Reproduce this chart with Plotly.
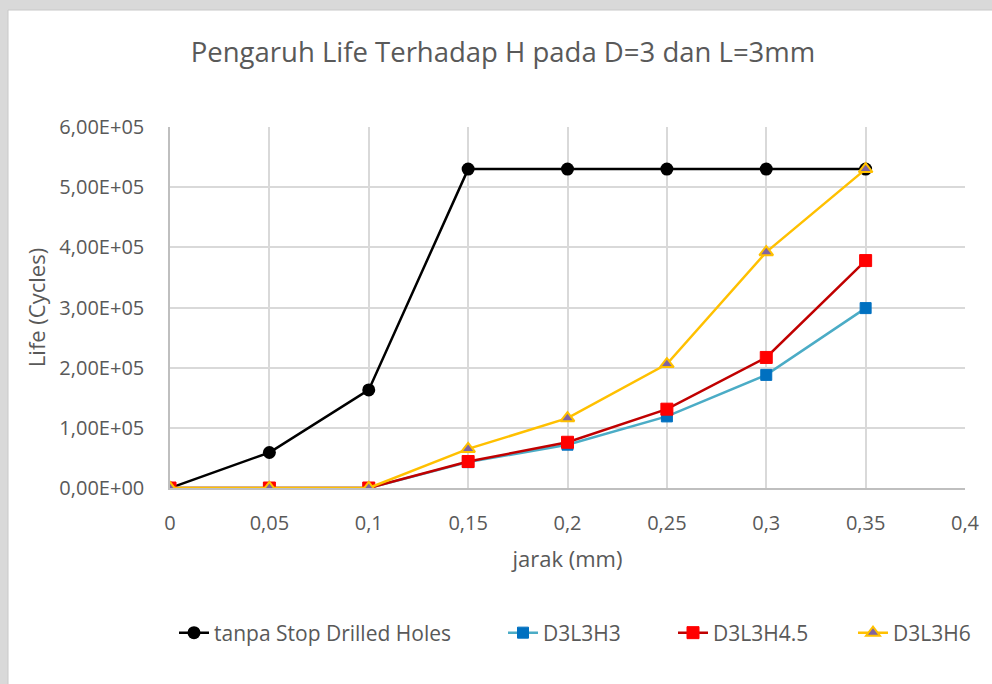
import plotly.graph_objects as go

# Data: fatigue life versus hole distance
jarak = [0, 0.05, 0.1, 0.15, 0.2, 0.25, 0.3, 0.35]
tanpa_stop = [0, 59000, 163000, 530000, 530000, 530000, 530000, 530000]
d3l3h3 = [0, 0, 0, 43000, 72000, 119000, 188000, 299000]
d3l3h45 = [0, 0, 0, 44000, 76000, 131000, 217000, 378000]
d3l3h6 = [0, 0, 0, 65000, 116000, 206000, 392000, 530000]

x_ticks = [0, 0.05, 0.1, 0.15, 0.2, 0.25, 0.3, 0.35, 0.4]
x_labels = ["0", "0,05", "0,1", "0,15", "0,2", "0,25", "0,3", "0,35", "0,4"]
y_ticks = [0, 100000, 200000, 300000, 400000, 500000, 600000]
y_labels = ["0,00E+00", "1,00E+05", "2,00E+05", "3,00E+05", "4,00E+05", "5,00E+05", "6,00E+05"]

FONT = "Open Sans"
TXT = "#595959"
GRID = "#d9d9d9"

W, H = 992, 684
L, R, T, B = 170, 27, 127, 196
pw, ph = W - L - R, H - T - B


def px_x(p):
    return (p - L) / pw


def px_y(p):
    return (H - B - p) / ph


fig = go.Figure()
fig.add_trace(go.Scatter(
    x=jarak, y=tanpa_stop, name="tanpa Stop Drilled Holes", mode="lines+markers",
    line=dict(color="#000000", width=2.5),
    marker=dict(symbol="circle", size=13, color="#000000"),
    legend="legend",
))
fig.add_trace(go.Scatter(
    x=jarak, y=d3l3h3, name="D3L3H3", mode="lines+markers",
    line=dict(color="#4bacc6", width=2.5),
    marker=dict(symbol="square", size=11, color="#0070c0", line=dict(color="#0070c0", width=1)),
    legend="legend2",
))
fig.add_trace(go.Scatter(
    x=jarak, y=d3l3h45, name="D3L3H4.5", mode="lines+markers",
    line=dict(color="#c00000", width=2.5),
    marker=dict(symbol="square", size=12, color="#ff0000", line=dict(color="#ff0000", width=1)),
    legend="legend3",
))
fig.add_trace(go.Scatter(
    x=jarak, y=d3l3h6, name="D3L3H6", mode="lines+markers",
    line=dict(color="#ffc000", width=2.5),
    marker=dict(symbol="triangle-up", size=12, color="#8064a2", line=dict(color="#ffc000", width=2)),
    legend="legend4",
))

# grey frame around the white chart area (top and left strips)
fig.add_shape(type="rect", xref="paper", yref="paper",
              x0=px_x(8), x1=px_x(W + 5), y0=px_y(H + 5), y1=px_y(10),
              fillcolor="white", line=dict(color="#c8c8c8", width=1), layer="below")

legend_font = dict(family=FONT, size=21, color=TXT)


def legend_at(px_left):
    return dict(orientation="h", x=px_x(px_left), xanchor="left",
                y=px_y(633), yanchor="middle", font=legend_font,
                bgcolor="rgba(0,0,0,0)", borderwidth=0)


fig.update_layout(
    width=W, height=H,
    margin=dict(l=L, r=R, t=T, b=B, pad=0),
    paper_bgcolor="#d9d9d9",
    plot_bgcolor="rgba(0,0,0,0)",
    font=dict(family=FONT, color=TXT, size=20),
    title=dict(text="Pengaruh Life Terhadap H pada D=3 dan L=3mm",
               x=503 / W, xref="container", xanchor="center",
               y=1 - 52 / H, yref="container", yanchor="middle",
               font=dict(family=FONT, size=27.5, color=TXT)),
    showlegend=True,
    legend=legend_at(174),
    legend2=legend_at(503),
    legend3=legend_at(673),
    legend4=legend_at(853),
)
fig.update_xaxes(
    range=[0, 0.4], tickvals=x_ticks, ticktext=x_labels,
    tickfont=dict(family=FONT, size=20, color=TXT),
    showgrid=True, gridcolor=GRID, gridwidth=1.5,
    showline=True, linecolor="#bfbfbf", linewidth=1.5,
    zeroline=False, ticks="", ticklabelstandoff=16,
    title=dict(text="jarak (mm)", font=dict(family=FONT, size=22, color=TXT), standoff=17),
)
fig.update_yaxes(
    range=[0, 600000], tickvals=y_ticks, ticktext=y_labels,
    tickfont=dict(family=FONT, size=20, color=TXT),
    showgrid=True, gridcolor=GRID, gridwidth=1.5,
    showline=True, linecolor="#bfbfbf", linewidth=1.5,
    zeroline=False, ticks="", ticklabelstandoff=20,
    title=dict(text="Life (Cycles)", font=dict(family=FONT, size=22, color=TXT), standoff=8),
)

fig.write_html("out.html")
